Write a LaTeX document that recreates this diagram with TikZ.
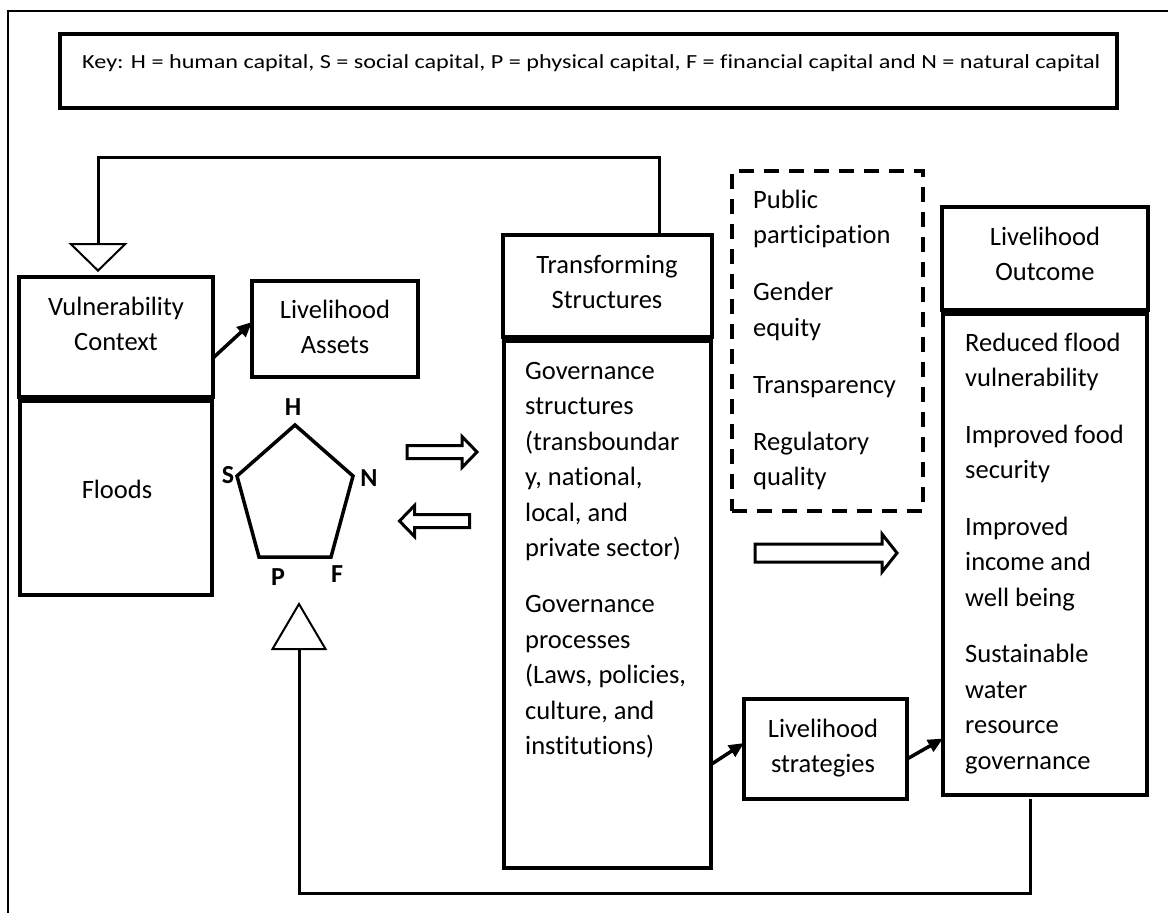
\documentclass[tikz,border=0pt]{standalone}
\usepackage{fontspec}
\setmainfont{Carlito}[Ligatures=NoCommon]
\newfontfamily\keyfont{Carlito}[Ligatures=NoCommon, FakeStretch=1.21]
\usetikzlibrary{arrows.meta, positioning}

\tikzset{
	box/.style = {draw, line width=4pt, inner sep=0pt, outer sep=0pt, anchor=north west},
	boxtext/.style = {inner sep=0pt, font=\fontsize{26.5}{35.5}\selectfont},
	capital/.style = {inner sep=0pt, font=\fontsize{26}{30}\selectfont\bfseries},
	feedback/.style = {line width=3pt},
	push/.style = {line width=3.5pt, -{Triangle[length=15pt, width=13pt]}},
	hollow/.pic = {
		\draw [line width=3pt, fill=white] (-35, -6.5) -- (20, -6.5) -- (20, -15.5) --
		      (35, 0) -- (20, 15.5) -- (20, 6.5) -- (-35, 6.5) -- cycle;
	},
	widehollow/.pic = {
		\draw [line width=3pt, fill=white] (-71, -9) -- (56, -9) -- (56, -19) --
		      (71, 0) -- (56, 19) -- (56, 9) -- (-71, 9) -- cycle;
	}
}

\begin{document}
\begin{tikzpicture}[x=1pt, y=-1pt]
		\useasboundingbox (0, 0) rectangle (1168, 913);
		\draw [line width=2.5pt] (8, 913) -- (8, 11) -- (1168, 11);
		\node [box, minimum width=1057pt, minimum height=74pt] (key) at (60, 34) {};
		\node [inner sep=0pt, anchor=base west, font=\keyfont\fontsize{20}{24}\selectfont] (keytext) at (82, 68)
		      {Key: H = human capital, S = social capital, P = physical capital, F = financial capital and N = natural capital};
		\node [box, minimum width=194pt, minimum height=120pt] (vultop) at (19, 277) {};
		\node [box, minimum width=192pt, minimum height=194pt, below=4pt of vultop] (vullow) {};
		\node [box, minimum width=166pt, minimum height=96pt] (assets) at (252, 281) {};
		\node [box, minimum width=209pt, minimum height=102pt] (transtop) at (503, 235) {};
		\node [box, minimum width=207pt, minimum height=527pt, below=4pt of transtop] (translow) {};
		\node [box, dash pattern=on 15pt off 10pt, minimum width=191pt, minimum height=340pt] (quality) at (732, 171) {};
		\node [box, minimum width=206pt, minimum height=103pt] (outtop) at (942, 207) {};
		\node [box, minimum width=204pt, minimum height=481pt, below=4pt of outtop] (outlow) {};
		\node [box, minimum width=163pt, minimum height=100pt] (strategy) at (744, 699) {};
		\node [boxtext, anchor=base, text width=190pt, align=center] (vultext) at (116, 315) {Vulnerability\\Context};
		\node [boxtext, anchor=base] (floods) at (117, 498) {Floods};
		\node [boxtext, anchor=base, text width=160pt, align=center] (assetstext) at (335, 318) {Livelihood\\Assets};
		\node [boxtext, anchor=base, text width=200pt, align=center] (transtext) at (607, 273) {Transforming\\Structures};
		\node [boxtext, anchor=base west, text width=185pt, align=flush left] (translist) at (525, 379)
		      {Governance\\structures\\(transboundar\\y, national,\\local, and\\private sector)\\[20.5pt]Governance\\processes\\(Laws, policies,\\culture, and\\institutions)};
		\node [boxtext, anchor=base west, text width=165pt, align=flush left] (qualitylist) at (753, 208)
		      {Public\\participation\\[21.5pt]Gender\\equity\\[21.5pt]Transparency\\[21.5pt]Regulatory\\quality};
		\node [boxtext, anchor=base, text width=200pt, align=center] (outtext) at (1045, 245) {Livelihood\\Outcome};
		\node [boxtext, anchor=base west, text width=180pt, align=flush left] (outlist) at (965, 351)
		      {Reduced flood\\vulnerability\\[21pt]Improved food\\security\\[21pt]Improved\\income and\\well being\\[21pt]Sustainable\\water\\resource\\governance};
		\node [boxtext, anchor=base, text width=160pt, align=center] (strategytext) at (823, 737) {Livelihood\\strategies};
		\coordinate (capH) at (295, 425);
		\coordinate (capN) at (353, 476);
		\coordinate (capF) at (331, 557);
		\coordinate (capP) at (259, 557);
		\coordinate (capS) at (237, 476);
		\draw [line width=3.5pt] (capH) -- (capN) -- (capF) -- (capP) -- (capS) -- cycle;
		\node [capital] (labH) at (293, 407) {H};
		\node [capital] (labS) at (228, 475) {S};
		\node [capital] (labN) at (369, 478) {N};
		\node [capital] (labP) at (278, 577) {P};
		\node [capital] (labF) at (337, 574) {F};
		\pic at (442, 452) {hollow};
		\pic [rotate=180] at (434.5, 521) {hollow};
		\pic at (826, 553) {widehollow};
		\coordinate (uptake) at (659, 157);
		\coordinate (upbend) at (98, 157);
		\coordinate (uptip) at (98, 272);
		\draw [feedback, -{Triangle[open, length=29pt, width=59pt, line width=2pt]}]
		      (transtop.north -| uptake) -- (uptake) -- (upbend) -- (uptip);
		\coordinate (downbend) at (1030, 893);
		\coordinate (backbend) at (299, 893);
		\coordinate (backtip) at (299, 602);
		\draw [feedback, -{Triangle[open, length=48pt, width=56pt, line width=2pt]}]
		      ([yshift=-4pt]outlow.south -| downbend) -- (downbend) -- (backbend) -- (backtip);
		\draw [push] ([yshift=-21pt]vultop.east) -- ([yshift=7pt]assets.west);
		\draw [push] ([yshift=-160pt]translow.east) -- ([yshift=6pt]strategy.west);
		\draw [push] ([yshift=-10pt]strategy.east) -- ([yshift=-184pt]outlow.west);
	\end{tikzpicture}
\end{document}
